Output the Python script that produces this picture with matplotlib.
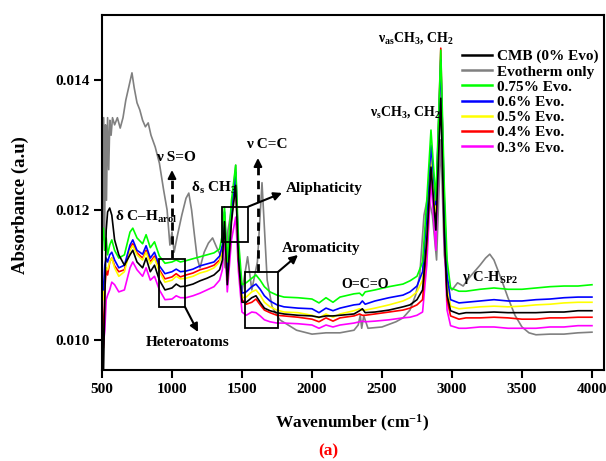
import numpy as np
import matplotlib
matplotlib.use('Agg')
import matplotlib.pyplot as plt
from matplotlib.patches import Rectangle
from matplotlib.ticker import FormatStrFormatter

plt.rcParams['font.family'] = ['Liberation Serif', 'DejaVu Serif']
plt.rcParams['font.weight'] = 'bold'
plt.rcParams['mathtext.fontset'] = 'custom'
plt.rcParams['mathtext.rm'] = 'Liberation Serif:bold'
plt.rcParams['mathtext.it'] = 'Liberation Serif:bold'
plt.rcParams['mathtext.bf'] = 'Liberation Serif:bold'
plt.rcParams['mathtext.default'] = 'rm'

# wavenumber grid (cm-1) shared by the blend spectra
wn = [500, 510, 520, 530, 540, 555, 570, 590, 620, 660, 700, 720, 750, 790, 815, 845, 875, 910, 950,
      1000, 1030, 1060, 1100, 1150, 1200, 1250, 1300, 1340, 1360, 1375, 1395, 1425, 1455, 1475, 1500,
      1530, 1570, 1600, 1630, 1660, 1700, 1750, 1800, 1900, 2000, 2050, 2100, 2150, 2200, 2300, 2340,
      2360, 2380, 2450, 2550, 2650, 2700, 2750, 2790, 2820, 2850, 2885, 2920, 2945, 2965, 2990, 3050,
      3100, 3200, 3300, 3400, 3500, 3600, 3700, 3800, 3900, 4000]

# absorbance x 1e-3
evo075 = [11.54, 11.72, 11.38, 11.57, 11.31, 11.46, 11.54, 11.38, 11.26, 11.31, 11.66, 11.72, 11.57, 11.48,
          11.62, 11.42, 11.51, 11.29, 11.18, 11.20, 11.23, 11.20, 11.22, 11.25, 11.28, 11.31, 11.34, 11.40,
          11.62, 12.05, 11.20, 12.15, 12.69, 11.54, 10.85, 10.88, 10.95, 11.00, 10.92, 10.82, 10.74, 10.69,
          10.66, 10.65, 10.63, 10.57, 10.65, 10.58, 10.66, 10.71, 10.72, 10.68, 10.74, 10.77, 10.82, 10.86,
          10.91, 10.98, 11.20, 12.15, 13.23, 12.15, 14.46, 12.38, 11.23, 10.80, 10.75, 10.75, 10.78, 10.80,
          10.78, 10.78, 10.80, 10.82, 10.83, 10.83, 10.85]
evo06 = [10.92, 10.77, 11.15, 11.26, 11.20, 11.31, 11.35, 11.23, 11.11, 11.15, 11.46, 11.54, 11.38, 11.32,
         11.45, 11.26, 11.35, 11.14, 11.02, 11.05, 11.09, 11.05, 11.06, 11.09, 11.14, 11.17, 11.20, 11.29,
         11.46, 11.97, 11.05, 12.00, 12.58, 11.38, 10.72, 10.74, 10.82, 10.86, 10.78, 10.68, 10.60, 10.54,
         10.51, 10.49, 10.48, 10.42, 10.49, 10.45, 10.49, 10.54, 10.55, 10.60, 10.55, 10.60, 10.65, 10.69,
         10.74, 10.83, 11.05, 11.92, 13.00, 12.08, 14.31, 12.15, 11.00, 10.62, 10.57, 10.58, 10.60, 10.62,
         10.60, 10.60, 10.62, 10.63, 10.65, 10.66, 10.66]
evo05 = [10.77, 10.62, 11.00, 11.11, 11.08, 11.20, 11.26, 11.11, 10.98, 11.05, 11.38, 11.45, 11.31, 11.23,
         11.35, 11.17, 11.26, 11.05, 10.89, 10.92, 10.98, 10.94, 10.95, 10.98, 11.03, 11.06, 11.11, 11.20,
         11.38, 11.91, 10.95, 11.92, 12.49, 11.31, 10.65, 10.66, 10.74, 10.77, 10.69, 10.58, 10.51, 10.46,
         10.43, 10.42, 10.38, 10.34, 10.40, 10.35, 10.40, 10.45, 10.48, 10.46, 10.46, 10.49, 10.54, 10.60,
         10.65, 10.74, 10.92, 11.77, 12.85, 11.97, 14.28, 12.00, 10.85, 10.52, 10.48, 10.49, 10.51, 10.52,
         10.51, 10.52, 10.54, 10.55, 10.57, 10.58, 10.58]
cmb = [10.62, 9.40, 10.62, 11.69, 11.97, 12.03, 11.92, 11.54, 11.31, 11.15, 11.31, 11.38, 11.20, 11.11,
       11.26, 11.05, 11.15, 10.92, 10.77, 10.80, 10.86, 10.82, 10.83, 10.86, 10.91, 10.95, 11.00, 11.08,
       11.23, 11.82, 10.85, 11.82, 12.38, 11.23, 10.58, 10.58, 10.65, 10.68, 10.58, 10.49, 10.45, 10.42,
       10.40, 10.38, 10.37, 10.35, 10.37, 10.37, 10.38, 10.40, 10.45, 10.48, 10.42, 10.43, 10.46, 10.51,
       10.54, 10.62, 10.77, 11.54, 12.66, 11.69, 13.72, 11.62, 10.69, 10.45, 10.40, 10.42, 10.42, 10.43,
       10.42, 10.42, 10.42, 10.43, 10.43, 10.45, 10.45]
evo04 = [10.62, 9.88, 10.77, 11.08, 11.00, 11.20, 11.26, 11.14, 11.05, 11.08, 11.42, 11.48, 11.34, 11.26,
         11.38, 11.20, 11.29, 11.08, 10.94, 10.97, 11.02, 10.97, 11.00, 11.03, 11.08, 11.11, 11.15, 11.23,
         11.38, 11.88, 10.92, 11.88, 12.46, 11.26, 10.62, 10.55, 10.58, 10.63, 10.54, 10.46, 10.42, 10.38,
         10.37, 10.35, 10.32, 10.28, 10.34, 10.29, 10.34, 10.37, 10.40, 10.38, 10.38, 10.40, 10.43, 10.46,
         10.49, 10.54, 10.62, 11.46, 12.77, 11.82, 14.49, 11.85, 10.62, 10.37, 10.32, 10.34, 10.34, 10.35,
         10.34, 10.32, 10.32, 10.34, 10.34, 10.35, 10.35]
evo03 = [10.46, 9.92, 10.15, 10.62, 10.69, 10.77, 10.89, 10.85, 10.74, 10.77, 11.11, 11.20, 11.08, 10.98,
         11.11, 10.92, 10.98, 10.77, 10.62, 10.63, 10.68, 10.65, 10.65, 10.68, 10.72, 10.77, 10.82, 10.92,
         11.08, 11.62, 10.74, 11.54, 11.89, 11.05, 10.43, 10.38, 10.43, 10.42, 10.37, 10.31, 10.28, 10.26,
         10.26, 10.25, 10.23, 10.18, 10.23, 10.20, 10.23, 10.26, 10.28, 10.29, 10.28, 10.29, 10.31, 10.34,
         10.35, 10.38, 10.43, 11.15, 12.46, 11.38, 14.00, 11.54, 10.46, 10.22, 10.18, 10.18, 10.20, 10.20,
         10.18, 10.18, 10.18, 10.20, 10.20, 10.22, 10.22]

# Evotherm only has its own grid
wn_evo = [500, 505, 512, 518, 525, 532, 540, 548, 556, 565, 575, 590, 610, 630, 650, 670, 690, 714, 730,
          750, 770, 790, 810, 830, 850, 880, 910, 940, 965, 985, 1000, 1015, 1040, 1070, 1100, 1120, 1140,
          1160, 1180, 1200, 1230, 1260, 1290, 1320, 1345, 1365, 1380, 1400, 1430, 1455, 1475, 1500, 1540,
          1570, 1610, 1643, 1680, 1715, 1770, 1890, 2000, 2100, 2200, 2300, 2330, 2345, 2355, 2370, 2400,
          2500, 2600, 2650, 2700, 2740, 2770, 2800, 2830, 2860, 2890, 2920, 2945, 2970, 3000, 3040, 3080,
          3120, 3160, 3200, 3240, 3270, 3300, 3350, 3400, 3450, 3500, 3550, 3600, 3700, 3800, 3900, 4000]
evo_only = [12.92, 11.54, 13.42, 11.38, 13.31, 12.15, 13.42, 12.62, 13.38, 13.15, 13.42, 13.31, 13.42, 13.26,
            13.42, 13.69, 13.88, 14.11, 13.88, 13.65, 13.54, 13.38, 13.28, 13.34, 13.15, 12.97, 12.72, 12.31,
            12.00, 11.46, 11.66, 11.35, 11.62, 11.92, 12.18, 12.26, 12.00, 11.62, 11.26, 11.11, 11.35, 11.49,
            11.57, 11.42, 11.31, 11.38, 11.11, 11.69, 12.08, 12.69, 11.23, 10.74, 11.28, 10.77, 11.20, 12.42,
            10.92, 10.51, 10.31, 10.15, 10.09, 10.11, 10.11, 10.15, 10.23, 10.38, 10.18, 10.37, 10.18, 10.20,
            10.28, 10.34, 10.46, 10.69, 11.00, 11.92, 12.23, 11.92, 11.23, 13.08, 11.31, 10.85, 10.77, 10.88,
            10.83, 10.95, 11.05, 11.15, 11.26, 11.32, 11.23, 10.95, 10.65, 10.38, 10.20, 10.11, 10.08, 10.09,
            10.09, 10.11, 10.12]

labels = ['CMB (0% Evo)', 'Evotherm only', '0.75% Evo.', '0.6% Evo.', '0.5% Evo.', '0.4% Evo.', '0.3% Evo.']
colors = ['black', '#808080', '#00ff00', '#0000ff', '#ffff00', '#ff0000', '#ff00ff']

fig = plt.figure(figsize=(6.06, 4.61), dpi=100)
ax = fig.add_axes([102/606, 91/461, 502/606, 355/461])

sc = 1e-3
lines = {}
lines['Evotherm only'], = ax.plot(wn_evo, np.array(evo_only)*sc, color=colors[1], lw=1.2)
series = [('0.3% Evo.', evo03, colors[6]), ('0.4% Evo.', evo04, colors[5]), ('0.5% Evo.', evo05, colors[4]),
          ('0.6% Evo.', evo06, colors[3]), ('0.75% Evo.', evo075, colors[2]), ('CMB (0% Evo)', cmb, colors[0])]
for name, vals, c in series:
    lines[name], = ax.plot(wn, np.array(vals)*sc, color=c, lw=1.2)

ax.set_xlim(500, 4086)
ax.set_ylim(0.009538, 0.0150)
ax.set_xticks(np.arange(500, 4001, 500))
ax.set_yticks([0.010, 0.012, 0.014])
ax.yaxis.set_major_formatter(FormatStrFormatter('%.3f'))
ax.tick_params(direction='out', length=6, width=1.5, labelsize=11, pad=3)
for s in ax.spines.values():
    s.set_linewidth(1.5)

leg = ax.legend([lines[l] for l in labels], labels, loc='upper left', bbox_to_anchor=(0.717, 0.9028),
                frameon=False, fontsize=11, handlelength=2.0, handletextpad=0.3, labelspacing=0.1,
                borderpad=0, borderaxespad=0)
for h in leg.get_lines():
    h.set_linewidth(1.8)

# annotations
t = dict(fontsize=11, fontweight='bold', va='center')
ax.text(593, 0.011892, 'δ C–H$_{arol}$', ha='left', **t)
ax.text(1029, 0.012815, 'ν S=O', ha='center', **t)
ax.text(1136, 0.012338, 'δ$_s$ CH$_3$', ha='left', **t)
ax.text(1679, 0.01300, 'ν C=C', ha='center', **t)
ax.text(1814, 0.012338, 'Aliphaticity', ha='left', **t)
ax.text(1786, 0.011415, 'Aromaticity', ha='left', **t)
ax.text(1114, 0.009954, 'Heteroatoms', ha='center', **t)
ax.text(2379, 0.010846, 'O=C=O', ha='center', fontsize=10, fontweight='bold', va='center')
ax.text(2471, 0.014646, 'ν$_{as}$CH$_3$, CH$_2$', ha='left', fontsize=10, fontweight='bold', va='center')
ax.text(2414, 0.013508, 'ν$_s$CH$_3$, CH$_2$', ha='left', fontsize=10, fontweight='bold', va='center')
ax.text(3071, 0.010954, 'γ C-H$_{SP2}$', ha='left', fontsize=10.5, fontweight='bold', va='center')

# boxes
box = dict(fill=False, ec='black', lw=1.3, zorder=5)
ax.add_patch(Rectangle((1357, 0.011508), 186, 0.000538, **box))
ax.add_patch(Rectangle((1521, 0.010185), 236, 0.000861, **box))
ax.add_patch(Rectangle((907, 0.010508), 186, 0.000738, **box))

arr = dict(arrowstyle='-|>', color='black', lw=1.5, mutation_scale=12, shrinkA=0, shrinkB=0)
ax.annotate('', xy=(1786, 0.012262), xytext=(1543, 0.01205), arrowprops=arr)
ax.annotate('', xy=(1900, 0.011308), xytext=(1757, 0.011046), arrowprops=arr)
ax.annotate('', xy=(1186, 0.010123), xytext=(1093, 0.010508), arrowprops=arr)

# dashed arrows
ax.plot([1000, 1000], [0.011262, 0.01252], color='black', lw=2, ls=(0, (3, 2)))
ax.annotate('', xy=(1000, 0.012615), xytext=(1000, 0.01250), arrowprops=arr)
ax.plot([1614, 1614], [0.011046, 0.01271], color='black', lw=2, ls=(0, (3, 2)))
ax.annotate('', xy=(1614, 0.01280), xytext=(1614, 0.01269), arrowprops=arr)

fig.text(352/606, 1 - 423/461, 'Wavenumber (cm$^{-1}$)', fontsize=12.5, ha='center', va='center')
fig.text(20/606, 1 - 205/461, 'Absorbance (a.u)', rotation=90, fontsize=13.5, ha='center', va='center')
fig.text(328/606, 1 - 451/461, '(a)', color='red', fontsize=12.5, ha='center', va='center')

fig.savefig('out.png', dpi=100)
